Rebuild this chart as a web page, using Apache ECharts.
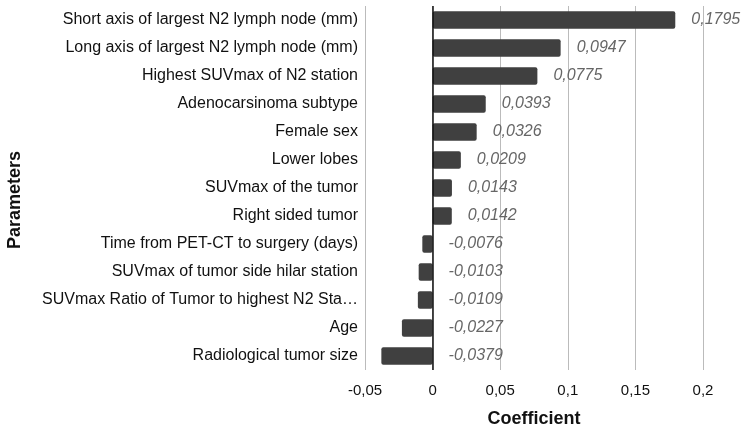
<!DOCTYPE html>
<html><head><meta charset="utf-8">
<script src="https://cdn.jsdelivr.net/npm/echarts@6/dist/echarts.min.js"></script>
<style>html,body{margin:0;padding:0;background:#fff}#c{width:744px;height:427px}</style>
</head><body><div id="c"></div>
<script>
const categories = [
  "Short axis of largest N2 lymph node (mm)",
  "Long axis of largest N2 lymph node (mm)",
  "Highest SUVmax of N2 station",
  "Adenocarsinoma subtype",
  "Female sex",
  "Lower lobes",
  "SUVmax of the tumor",
  "Right sided tumor",
  "Time from PET-CT to surgery (days)",
  "SUVmax of tumor side hilar station",
  "SUVmax Ratio of Tumor to highest N2 Sta\u2026",
  "Age",
  "Radiological tumor size"
];
const coefficients = [0.1795, 0.0947, 0.0775, 0.0393, 0.0326, 0.0209, 0.0143, 0.0142, -0.0076, -0.0103, -0.0109, -0.0227, -0.0379];
const xTicks = [-0.05, 0, 0.05, 0.1, 0.15, 0.2];

const fmt = v => String(v).replace('.', ',');
const chart = echarts.init(document.getElementById('c'));
chart.setOption({
  animation: false,
  grid: {left: 365, right: 41, top: 6, bottom: 57, containLabel: false, outerBoundsMode: 'none'},
  xAxis: {
    type: 'value', min: xTicks[0], max: xTicks[xTicks.length-1], interval: 0.05,
    name: 'Coefficient', nameLocation: 'middle', nameGap: 40,
    nameTextStyle: {fontFamily: 'Liberation Sans', fontWeight: 'bold', fontSize: 18, color: '#111'},
    axisLine: {show: false}, axisTick: {show: false},
    axisLabel: {formatter: fmt, fontFamily: 'Liberation Sans', fontSize: 15, color: '#111', margin: 13},
    splitLine: {show: true, lineStyle: {color: '#bbbbbb', width: 1}}
  },
  yAxis: {
    type: 'category', data: categories, inverse: true,
    name: 'Parameters', nameLocation: 'middle', nameGap: 341,
    nameTextStyle: {fontFamily: 'Liberation Sans', fontWeight: 'bold', fontSize: 18, color: '#111', padding: [0, 24, 0, 0]},
    axisLine: {show: false}, axisTick: {show: false},
    axisLabel: {fontFamily: 'Liberation Sans', fontSize: 16, color: '#111', margin: 7}
  },
  series: [{
    type: 'bar', data: coefficients, barCategoryGap: '37%',
    itemStyle: {color: '#404040', borderRadius: 2},
    label: {show: true, position: 'right', distance: 16, formatter: p => fmt(p.value),
      fontFamily: 'Liberation Sans', fontStyle: 'italic', fontSize: 16, color: '#666'},
    markLine: {silent: true, symbol: 'none', label: {show: false},
      lineStyle: {color: '#111', type: 'solid', width: 1.5}, data: [{xAxis: 0}]}
  }]
});
</script></body></html>
